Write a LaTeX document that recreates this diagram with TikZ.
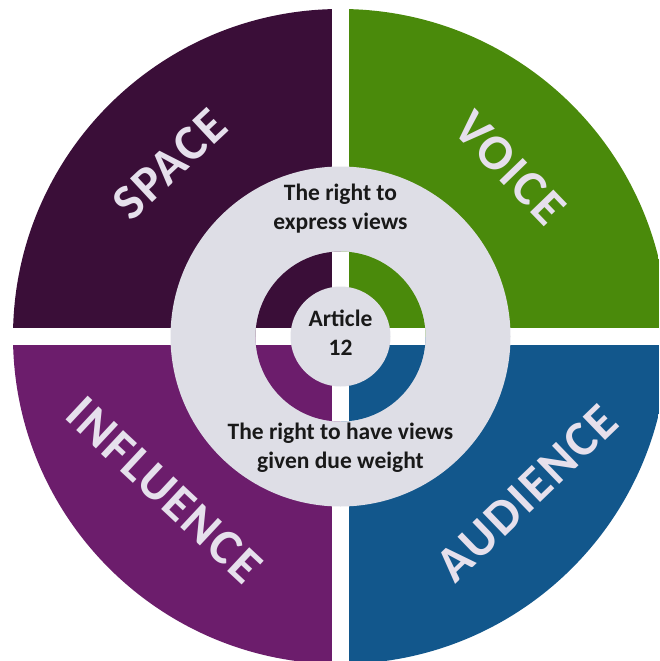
\documentclass[tikz,border=0pt]{standalone}
\usepackage{fontspec}
\setmainfont{Carlito}
\definecolor{spacecol}{HTML}{3A0E38}
\definecolor{voicecol}{HTML}{4A8A0B}
\definecolor{inflcol}{HTML}{6C1D6C}
\definecolor{audcol}{HTML}{12578C}
\definecolor{ringcol}{HTML}{DEDEE6}
\definecolor{labcol}{HTML}{E6E0EC}
\tikzset{
  biglab/.style={text=labcol, font=\fontsize{50}{56}\selectfont\bfseries\addfontfeature{LetterSpace=4}, inner sep=0pt},
  smalltxt/.style={text=black!90, font=\fontsize{23.5}{29}\selectfont\bfseries, align=center, inner sep=0pt},
}
\begin{document}
\begin{tikzpicture}[x=1pt,y=-1pt]
\useasboundingbox (0,0) rectangle (659,661);
\fill[white] (0,0) rectangle (659,661);
\coordinate (c) at (340.5,336.5);
% outer quadrants
\begin{scope}
\clip (c) circle[radius=327.5];
\fill[spacecol] (0,0) rectangle (c);
\fill[voicecol] (659,0) rectangle (c);
\fill[inflcol] (0,661) rectangle (c);
\fill[audcol] (659,661) rectangle (c);
\end{scope}
% white cross
\fill[white] (332,0) rectangle (349,661);
\fill[white] (0,328) rectangle (659,345);
% grey ring
\fill[ringcol] (c) circle[radius=170];
% inner quadrants
\begin{scope}
\clip (c) circle[radius=85];
\fill[spacecol] (200,200) rectangle (c);
\fill[voicecol] (480,200) rectangle (c);
\fill[inflcol] (200,480) rectangle (c);
\fill[audcol] (480,480) rectangle (c);
\fill[white] (332,240) rectangle (349,430);
\fill[white] (240,328) rectangle (440,345);
\end{scope}
\fill[ringcol] (c) circle[radius=50];
% labels
\node[biglab, rotate=43] (space) at (170,164) {SPACE};
\node[biglab, rotate=-46] (voice) at (510,168) {VOICE};
\node[biglab, rotate=-43] (influence) at (164,490) {INFLUENCE};
\node[biglab, rotate=44] (audience) at (527,493) {AUDIENCE};
\node[smalltxt] (express) at (340.5,209) {The right to\\express views};
\node[smalltxt] (weight) at (340.5,448) {The right to have views\\given due weight};
\node[smalltxt] (article) at (340.5,333) {Article\\12};
\end{tikzpicture}
\end{document}
